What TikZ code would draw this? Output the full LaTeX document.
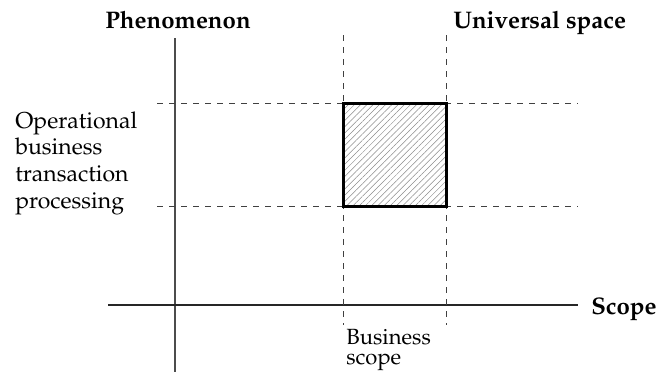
\documentclass[tikz,border=0pt]{standalone}
\usepackage[T1]{fontenc}
\usepackage{mathpazo}
\usetikzlibrary{patterns.meta, positioning}

\begin{document}
\begin{tikzpicture}[x=0.5pt,y=-0.5pt,
 axis/.style={draw=black!70,line width=0.6pt},
 guide/.style={draw=black!75,dashed,line width=0.5pt},
 area/.style={draw=black,line width=1.5pt,
   pattern={Lines[angle=45,distance=2.2pt,line width=0.25pt]},pattern color=black!45},
 head/.style={font=\fontsize{12}{13}\selectfont\bfseries,inner sep=0pt},
 side/.style={font=\fontsize{11.5}{13.4}\selectfont,align=left,inner sep=0pt}]
 \useasboundingbox (0,0) rectangle (660,372);

 % axes
 \coordinate (ytop) at (175,38);
 \coordinate (ybot) at (175,372);
 \coordinate (xleft) at (108,305);
 \coordinate (xright) at (578,305);
 \draw[axis] (ytop) -- (ybot);
 \draw[axis,draw=black!85] (xleft) -- (xright);

 % dashed guides
 \foreach \n/\x in {lo/343, hi/446}{
   \coordinate (v\n top) at (\x,35);
   \coordinate (v\n bot) at (\x,325);
   \draw[guide] (v\n top) -- (v\n bot);}
 \foreach \n/\y in {hi/103, lo/206}{
   \coordinate (h\n left) at (157,\y);
   \coordinate (h\n right) at (578,\y);
   \draw[guide] (h\n left) -- (h\n right);}

 % business area
 \coordinate (boxa) at (343,103);
 \coordinate (boxb) at (446,206);
 \draw[area] (boxa) rectangle (boxb);

 % labels
 \node[head,anchor=base] (phen) at (178,28) {Phenomenon};
 \node[head,anchor=base west] (univ) at (453,28) {Universal space};
 \node[head,anchor=base east] (scope) at (657,314) {Scope};
 \node[side,anchor=north west] (oper) at (15,111)
   {Operational\\business\\transaction\\processing};
 \node[side,font=\fontsize{11}{10}\selectfont,anchor=north west] (bscope) at (346,329)
   {Business\\scope};
\end{tikzpicture}
\end{document}
